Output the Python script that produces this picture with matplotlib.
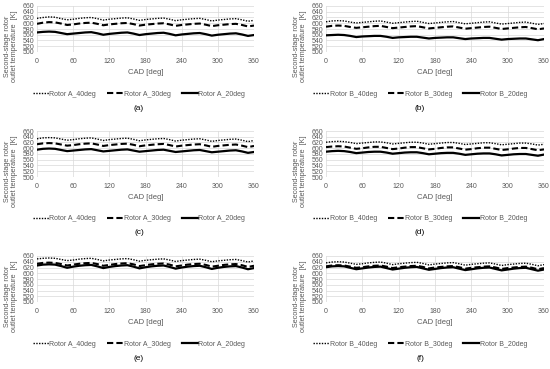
import matplotlib
matplotlib.use("Agg")
import matplotlib.pyplot as plt

plt.rcParams['font.family'] = ['Liberation Sans', 'DejaVu Sans']

cad = list(range(0, 361, 10))

# panel (a) - rotor A, first case
a_40 = [617, 620, 622, 621, 616, 612, 614, 617, 619, 620, 616, 611, 614, 616, 618, 619, 615, 610, 613, 615,
        617, 618, 614, 609, 612, 614, 616, 617, 613, 608, 611, 613, 615, 616, 612, 607, 610]
a_30 = [598, 602, 604, 603, 599, 594, 596, 599, 601, 602, 598, 593, 596, 598, 600, 601, 597, 592, 595, 597,
        599, 600, 596, 591, 594, 596, 598, 599, 595, 590, 593, 595, 597, 598, 594, 589, 592]
a_20 = [568, 570, 571, 570, 566, 562, 564, 566, 568, 569, 565, 560, 563, 565, 567, 568, 564, 559, 562, 564,
        566, 567, 563, 558, 561, 563, 565, 566, 562, 557, 560, 562, 564, 565, 561, 556, 559]

# panel (b) - rotor B, first case
b_40 = [605, 608, 609, 608, 604, 601, 603, 605, 607, 608, 604, 600, 602, 604, 606, 607, 603, 599, 601, 603,
        605, 606, 602, 598, 600, 602, 604, 605, 601, 597, 599, 601, 603, 604, 600, 596, 599]
b_30 = [588, 591, 592, 591, 587, 584, 586, 588, 590, 591, 587, 583, 585, 587, 589, 590, 586, 582, 584, 586,
        588, 589, 585, 581, 583, 585, 587, 588, 584, 580, 582, 584, 586, 587, 583, 579, 582]
b_20 = [558, 559, 560, 559, 556, 552, 554, 555, 556, 556, 553, 549, 551, 552, 553, 553, 550, 547, 549, 550,
        551, 551, 548, 545, 547, 548, 549, 549, 546, 543, 545, 546, 547, 547, 544, 541, 545]

# panel (c)
c_40 = [633, 636, 637, 636, 632, 628, 630, 633, 635, 636, 632, 627, 630, 632, 634, 635, 631, 626, 629, 631,
        633, 634, 630, 625, 628, 630, 632, 633, 629, 624, 627, 629, 631, 632, 628, 623, 627]
c_30 = [614, 617, 618, 617, 613, 609, 611, 614, 616, 617, 613, 608, 611, 613, 615, 616, 612, 607, 610, 612,
        614, 615, 611, 606, 609, 611, 613, 614, 610, 605, 608, 610, 612, 613, 609, 604, 608]
c_20 = [595, 598, 599, 598, 594, 590, 592, 594, 596, 597, 593, 589, 591, 593, 595, 596, 592, 588, 590, 592,
        594, 595, 591, 587, 589, 591, 593, 594, 590, 586, 588, 590, 592, 593, 589, 584, 587]

# panel (d)
d_40 = [621, 623, 624, 623, 620, 616, 618, 620, 622, 622, 619, 615, 617, 619, 621, 621, 618, 614, 616, 618,
        620, 620, 617, 613, 615, 617, 619, 619, 616, 612, 614, 616, 618, 618, 615, 611, 614]
d_30 = [604, 606, 607, 606, 602, 598, 600, 603, 605, 605, 601, 597, 599, 602, 604, 604, 600, 596, 598, 601,
        603, 603, 599, 595, 597, 600, 602, 602, 598, 594, 596, 599, 601, 601, 597, 593, 596]
d_20 = [588, 590, 591, 590, 587, 583, 585, 587, 588, 588, 585, 581, 583, 585, 586, 586, 583, 579, 581, 583,
        584, 584, 581, 577, 579, 581, 582, 582, 579, 575, 577, 579, 580, 580, 577, 574, 578]

# panel (e)
e_40 = [650, 652, 653, 652, 648, 644, 646, 649, 651, 652, 648, 643, 646, 648, 650, 651, 647, 642, 645, 647,
        649, 650, 646, 641, 644, 646, 648, 649, 645, 640, 643, 645, 647, 648, 644, 639, 643]
e_30 = [633, 636, 637, 636, 632, 627, 630, 633, 635, 636, 632, 626, 629, 632, 634, 635, 631, 625, 628, 631,
        633, 634, 630, 624, 627, 630, 632, 633, 629, 623, 626, 629, 631, 632, 628, 622, 626]
e_20 = [627, 630, 631, 630, 625, 619, 623, 626, 628, 629, 624, 618, 622, 625, 627, 628, 623, 617, 621, 624,
        626, 627, 622, 616, 620, 623, 625, 626, 621, 615, 619, 622, 624, 625, 620, 614, 618]

# panel (f)
f_40 = [636, 639, 640, 639, 635, 631, 633, 636, 638, 639, 635, 630, 633, 635, 637, 638, 634, 629, 632, 634,
        636, 637, 633, 628, 631, 633, 635, 636, 632, 627, 630, 632, 634, 635, 631, 626, 630]
f_30 = [624, 627, 628, 627, 623, 619, 621, 624, 626, 627, 623, 618, 621, 623, 625, 626, 622, 617, 620, 622,
        624, 625, 621, 616, 619, 621, 623, 624, 620, 615, 618, 620, 622, 623, 619, 614, 618]
f_20 = [621, 624, 625, 624, 619, 614, 617, 620, 622, 623, 618, 613, 616, 619, 621, 622, 617, 612, 615, 618,
        620, 621, 616, 611, 614, 617, 619, 620, 615, 610, 613, 616, 618, 619, 614, 609, 613]

panels = [
    ("(a)", "A", a_40, a_30, a_20),
    ("(b)", "B", b_40, b_30, b_20),
    ("(c)", "A", c_40, c_30, c_20),
    ("(d)", "B", d_40, d_30, d_20),
    ("(e)", "A", e_40, e_30, e_20),
    ("(f)", "B", f_40, f_30, f_20),
]

W, H = 550, 369
fig = plt.figure(figsize=(W / 100, H / 100), dpi=100)

col_left = [37, 326]
col_w = [217, 218]
row_top = [6, 131, 256]
ax_h = 46

for i, (tag, rotor, s40, s30, s20) in enumerate(panels):
    r, c = divmod(i, 2)
    x0 = col_left[c]
    y0 = row_top[r]
    ax = fig.add_axes([x0 / W, 1 - (y0 + ax_h) / H, col_w[c] / W, ax_h / H])
    l1, = ax.plot(cad, s40, color='black', lw=1.0, ls=(0, (1, 1)))
    l2, = ax.plot(cad, s30, color='black', lw=1.5, ls=(0, (3, 1.5)))
    l3, = ax.plot(cad, s20, color='black', lw=1.6)
    ax.set_xlim(0, 360)
    ax.set_ylim(500, 660)
    ax.set_xticks(range(0, 361, 60))
    ax.set_yticks(range(500, 661, 20))
    ax.grid(True, color='#d9d9d9', lw=0.5)
    ax.set_axisbelow(True)
    for sp in ax.spines.values():
        sp.set_visible(False)
    ax.tick_params(length=0, labelsize=5, colors='#595959', pad=4)
    ax.tick_params(axis='y', pad=2)
    ax.set_xlabel("CAD [deg]", fontsize=5.5, color='#595959', labelpad=3)

    cx = 139 if c == 0 else 420
    ycen = y0 + ax_h / 2 + 17
    fig.text(11 / W + (c * 289) / W, 1 - ycen / H,
             "Second-stage rotor\noutlet temperature  [K]",
             rotation=90, ha='center', va='center', fontsize=5.2,
             color='#595959', multialignment='center', linespacing=1.1)

    leg_y = y0 + 88
    ax.legend([l1, l2, l3],
              [f"Rotor {rotor}_40deg", f"Rotor {rotor}_30deg", f"Rotor {rotor}_20deg"],
              loc='center', bbox_to_anchor=(cx / W, 1 - leg_y / H),
              bbox_transform=fig.transFigure, ncol=3, frameon=False,
              fontsize=5, handlelength=2.3, handletextpad=0.1,
              columnspacing=1.6, labelcolor='#595959')

    fig.text(cx / W, 1 - (y0 + 102) / H, tag, ha='center', va='center',
             fontsize=6, color='black')

fig.savefig("out.png", dpi=100)
